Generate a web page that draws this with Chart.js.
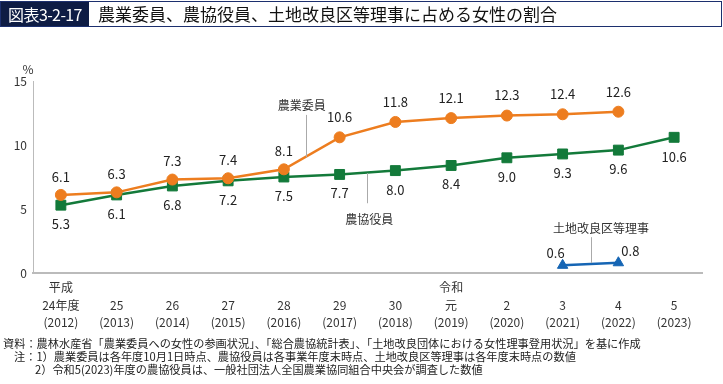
<!DOCTYPE html>
<html><head><meta charset="utf-8">
<script src="https://cdn.jsdelivr.net/npm/chart.js@4"></script>
<style>
html,body{margin:0;padding:0;background:#fff;width:723px;height:384px;overflow:hidden;font-family:"Noto Sans CJK JP",sans-serif;}
#wrap{position:absolute;left:0;top:0;width:723px;height:384px;}
#title{position:absolute;left:0;top:1px;width:720px;height:24px;border:1px solid #1c2f6e;}
#tag{position:absolute;left:0;top:0;width:88px;height:24px;background:#0e1c44;color:#fff;font-size:16px;line-height:24px;text-align:center;letter-spacing:-0.6px;}
#ttext{position:absolute;left:97px;top:0;height:24px;line-height:24px;font-size:17px;color:#111;}
.note{position:absolute;font-size:11.2px;color:#222;white-space:nowrap;line-height:13px;}
</style></head>
<body>
<div id="wrap"><canvas id="c" width="723" height="384"></canvas></div>
<div id="title"><div id="tag">図表3-2-17</div><div id="ttext">農業委員、農協役員、土地改良区等理事に占める女性の割合</div></div>
<div class="note" style="left:3px;top:337px;">資料：農林水産省「農業委員への女性の参画状況」、「総合農協統計表」、「土地改良団体における女性理事登用状況」を基に作成</div>
<div class="note" style="left:14px;top:350px;">注：1）農業委員は各年度10月1日時点、農協役員は各事業年度末時点、土地改良区等理事は各年度末時点の数値</div>
<div class="note" style="left:35px;top:363px;">2）令和5(2023)年度の農協役員は、一般社団法人全国農業協同組合中央会が調査した数値</div>
<script>
// ---- data ----
const eraRow  = ['平成','','','','','','','令和','','','',''];
const yearRow = ['24年度','25','26','27','28','29','30','元','2','3','4','5'];
const adRow   = ['(2012)','(2013)','(2014)','(2015)','(2016)','(2017)','(2018)','(2019)','(2020)','(2021)','(2022)','(2023)'];
const nogyoIin = [6.1,6.3,7.3,7.4,8.1,10.6,11.8,12.1,12.3,12.4,12.6,null];
const nokyoYakuin = [5.3,6.1,6.8,7.2,7.5,7.7,8.0,8.4,9.0,9.3,9.6,10.6];
const tochiRiji = [null,null,null,null,null,null,null,null,null,0.6,0.8,null];
const seriesNames = ['農業委員','農協役員','土地改良区等理事'];
const yTicks = [0,5,10,15];

// callouts: [text, textX, textY, lineX, lineY1, lineY2] in data coordinates
const callouts = [
  [seriesNames[0], 4.32, 13.1, 4.39, 12.35, 9.05],
  [seriesNames[1], 5.53, 4.2, 5.49, 7.8, 5.45],
  [seriesNames[2], 9.69, 3.5, 9.51, 2.8, 0.78]
];

const labels = eraRow.map((e,i)=>[e, yearRow[i], adRow[i]]);
const FONT = '"Noto Sans CJK JP", sans-serif';

const labelPlugin = {
  id:'vlabels',
  afterDatasetsDraw(chart){
    const ctx = chart.ctx;
    ctx.save();
    ctx.font = '13px ' + FONT;
    ctx.fillStyle = '#222';
    ctx.textAlign = 'center';
    ctx.textBaseline = 'middle';
    chart.data.datasets.forEach((ds, di)=>{
      const meta = chart.getDatasetMeta(di);
      meta.data.forEach((pt, i)=>{
        const v = ds.data[i];
        if (v === null || v === undefined) return;
        let dx = 0, dy = 0;
        if (di === 0) { dy = (v >= 10 ? -20 : -18); }
        else if (di === 1) { dy = (v >= 10 ? 20 : 19); }
        else { dy = -12; dx = (i === 9 ? -7 : 12); }
        ctx.fillText(v.toFixed(1), pt.x + dx, pt.y + dy);
      });
    });
    // callouts
    const xs = chart.scales.x, ys = chart.scales.y;
    ctx.font = '12px ' + FONT;
    ctx.strokeStyle = '#aaaaaa';
    ctx.lineWidth = 1;
    callouts.forEach(c=>{
      const lx = Math.round(xs.getPixelForValue(c[3])) + 0.5;
      ctx.beginPath();
      ctx.moveTo(lx, ys.getPixelForValue(c[4]));
      ctx.lineTo(lx, ys.getPixelForValue(c[5]));
      ctx.stroke();
      ctx.fillStyle = '#333';
      ctx.fillText(c[0], xs.getPixelForValue(c[1]), ys.getPixelForValue(c[2]));
    });
    // unit
    ctx.font = '12px ' + FONT;
    ctx.fillStyle = '#333';
    ctx.fillText('%', chart.chartArea.left - 5, chart.chartArea.top - 12);
    ctx.restore();
  }
};

new Chart(document.getElementById('c'), {
  type:'line',
  data:{
    labels: labels,
    datasets:[
      {label:seriesNames[0], data:nogyoIin, borderColor:'#ED7D1F', backgroundColor:'#ED7D1F', borderWidth:2.5,
       pointStyle:'circle', pointRadius:5.5, pointBorderWidth:1, tension:0},
      {label:seriesNames[1], data:nokyoYakuin, borderColor:'#137A3A', backgroundColor:'#137A3A', borderWidth:2.5,
       pointStyle:'rect', pointRadius:7, pointBorderWidth:1, tension:0},
      {label:seriesNames[2], data:tochiRiji, borderColor:'#1565B4', backgroundColor:'#1565B4', borderWidth:2.5,
       pointStyle:'triangle', pointRadius:6, pointBorderWidth:1, tension:0}
    ]
  },
  options:{
    responsive:false, animation:false,
    layout:{padding:{top:81,right:21,left:0,bottom:0}},
    plugins:{legend:{display:false}, tooltip:{enabled:false}},
    scales:{
      x:{
        offset:true,
        grid:{display:false, drawTicks:false},
        border:{display:true, color:'#bbbbbb', width:2},
        ticks:{autoSkip:false, maxRotation:0, padding:6, color:'#333', font:{family:FONT, size:12, lineHeight:1.45}},
        afterFit(s){ s.height = 111; }
      },
      y:{
        min:0, max:15,
        afterBuildTicks(s){ s.ticks = yTicks.map(v=>({value:v})); },
        grid:{display:false, drawTicks:false},
        border:{display:true, color:'#bbbbbb', width:1},
        ticks:{padding:6, color:'#333', font:{family:FONT, size:12}},
        afterFit(s){ s.width = 33; }
      }
    }
  },
  plugins:[labelPlugin]
});
</script>
</body></html>
